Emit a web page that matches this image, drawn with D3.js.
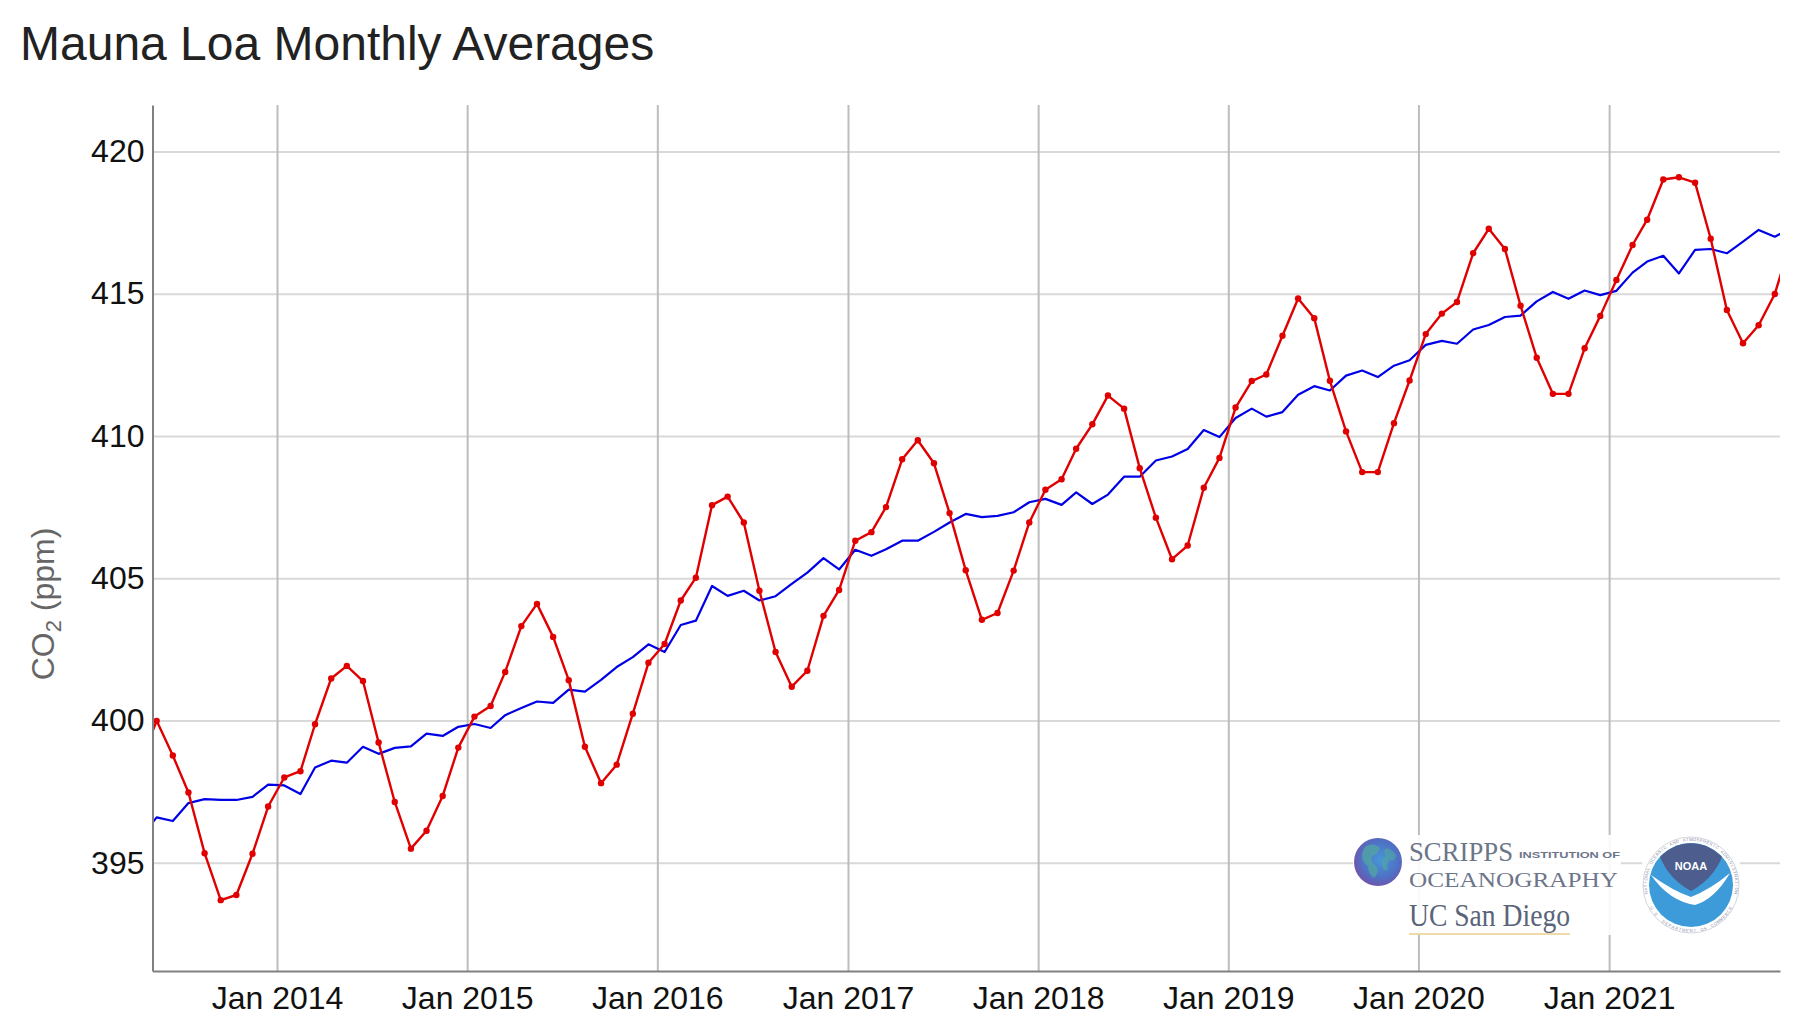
<!DOCTYPE html>
<html>
<head>
<meta charset="utf-8">
<script src="https://cdn.jsdelivr.net/npm/d3@7"></script>
<style>
  html, body { margin: 0; padding: 0; background: #ffffff; }
  svg { display: block; font-family: "Liberation Sans", Arial, Helvetica, sans-serif; }
</style>
</head>
<body>
<svg id="chart" width="1811" height="1024"></svg>
<script>
// ---------------- data ----------------
const chartTitle = "Mauna Loa Monthly Averages";
const firstMonth = "2013-04";   // first month of the series (mid-month points)
const lastMonth  = "2021-12";

// Monthly mean CO2 (ppm), red line with dots
const monthlyMean = [
  398.60, 399.99, 398.77, 397.47, 395.34, 393.69, 393.87, 395.32, 396.98,            // 2013 Apr-Dec
  398.00, 398.22, 399.87, 401.48, 401.92, 401.39, 399.23, 397.14, 395.50, 396.13, 397.35, 399.05, // 2014
  400.14, 400.51, 401.71, 403.32, 404.10, 402.94, 401.42, 399.08, 397.80, 398.45, 400.24, 402.03, // 2015
  402.69, 404.22, 405.02, 407.57, 407.87, 406.96, 404.56, 402.41, 401.19, 401.75, 403.68, 404.59, // 2016
  406.32, 406.62, 407.50, 409.18, 409.85, 409.04, 407.29, 405.28, 403.54, 403.78, 405.27, 406.96, // 2017
  408.11, 408.48, 409.55, 410.41, 411.42, 410.96, 408.87, 407.13, 405.67, 406.15, 408.18, 409.23, // 2018
  411.00, 411.93, 412.16, 413.52, 414.83, 414.14, 411.94, 410.16, 408.73, 408.73, 410.45, 411.95, // 2019
  413.58, 414.30, 414.71, 416.42, 417.28, 416.57, 414.58, 412.75, 411.48, 411.48, 413.08, 414.22, // 2020
  415.48, 416.71, 417.60, 419.01, 419.09, 418.90, 416.93, 414.43, 413.26, 413.89, 414.99, 416.80  // 2021
];

// Seasonally corrected trend (ppm), blue line
const seasonalTrend = [
  395.90, 396.60, 396.47, 397.10, 397.24, 397.21, 397.21, 397.32, 397.75,            // 2013 Apr-Dec
  397.72, 397.42, 398.35, 398.59, 398.52, 399.08, 398.83, 399.04, 399.09, 399.54, 399.46, 399.78, // 2014
  399.88, 399.74, 400.19, 400.44, 400.67, 400.62, 401.09, 401.02, 401.43, 401.88, 402.23, 402.68, // 2015
  402.41, 403.36, 403.51, 404.73, 404.38, 404.56, 404.22, 404.37, 404.80, 405.20, 405.71, 405.31, // 2016
  406.00, 405.79, 406.02, 406.32, 406.32, 406.63, 406.96, 407.26, 407.15, 407.19, 407.32, 407.67, // 2017
  407.79, 407.58, 408.02, 407.61, 407.94, 408.57, 408.57, 409.14, 409.28, 409.54, 410.21, 409.96, // 2018
  410.63, 410.96, 410.68, 410.84, 411.45, 411.75, 411.60, 412.12, 412.30, 412.07, 412.47, 412.66, // 2019
  413.20, 413.34, 413.24, 413.74, 413.90, 414.18, 414.23, 414.73, 415.06, 414.82, 415.11, 414.95, // 2020
  415.10, 415.74, 416.13, 416.33, 415.71, 416.54, 416.57, 416.42, 416.83, 417.24, 417.00, 417.30  // 2021
];

const yTickValues = [395, 400, 405, 410, 415, 420];
const xTickYears  = [2014, 2015, 2016, 2017, 2018, 2019, 2020, 2021];
const xTickLabels = ["Jan 2014", "Jan 2015", "Jan 2016", "Jan 2017", "Jan 2018", "Jan 2019", "Jan 2020", "Jan 2021"];
const yDomain = [391.2, 421.63];
const xDomainStart = "2013-05-07";
const xDomainEnd   = "2021-11-25";

// ---------------- layout ----------------
const svg = d3.select("#chart");
const plot = { left: 152.5, right: 1780, top: 105, bottom: 971 };
const W = plot.right - plot.left, H = plot.bottom - plot.top;

const parseDay = d3.timeParse("%Y-%m-%d");
const parseMonth = d3.timeParse("%Y-%m");
const months = d3.timeMonth.range(parseMonth(firstMonth), d3.timeMonth.offset(parseMonth(lastMonth), 1))
  .map(d => new Date(d.getFullYear(), d.getMonth(), 15));

const meanData = months.map((d, i) => ({ date: d, v: monthlyMean[i] }));
const trendData = months.map((d, i) => ({ date: d, v: seasonalTrend[i] }));

const x = d3.scaleTime()
  .domain([parseDay(xDomainStart), parseDay(xDomainEnd)])
  .range([plot.left, plot.right]);
const y = d3.scaleLinear().domain(yDomain).range([plot.bottom, plot.top]);

const xTickDates = xTickYears.map(yr => new Date(yr, 0, 1));

// ---------------- title ----------------
svg.append("text")
  .attr("x", 20).attr("y", 60)
  .attr("font-size", 48).attr("fill", "#222")
  .text(chartTitle);

// ---------------- grid ----------------
const hGrid = svg.append("g").attr("transform", `translate(${plot.left},0)`)
  .call(d3.axisLeft(y).tickValues(yTickValues).tickSize(-W).tickFormat(""));
hGrid.select(".domain").remove();
hGrid.selectAll("text").remove();
hGrid.selectAll("line").attr("stroke", "#d9d9d9").attr("stroke-width", 2);

const vGrid = svg.append("g").attr("transform", `translate(0,${plot.bottom})`)
  .call(d3.axisBottom(x).tickValues(xTickDates).tickSize(-H).tickFormat(""));
vGrid.select(".domain").remove();
vGrid.selectAll("text").remove();
vGrid.selectAll("line").attr("stroke", "#bdbdbd").attr("stroke-width", 2);

// ---------------- logos ----------------
const logos = svg.append("g");
logos.append("rect").attr("x", 1353).attr("y", 835).attr("width", 268).attr("height", 100)
  .attr("fill", "#fff").attr("opacity", 0.9);
logos.append("rect").attr("x", 1642).attr("y", 835).attr("width", 98).attr("height", 100)
  .attr("fill", "#fff").attr("opacity", 0.9);

const defs = svg.append("defs");
const grad = defs.append("radialGradient").attr("id", "globe").attr("cx", "55%").attr("cy", "45%").attr("r", "60%");
grad.append("stop").attr("offset", "0%").attr("stop-color", "#4696d6");
grad.append("stop").attr("offset", "65%").attr("stop-color", "#4f70c4");
grad.append("stop").attr("offset", "100%").attr("stop-color", "#7650a8");
logos.append("circle").attr("cx", 1378).attr("cy", 862).attr("r", 24).attr("fill", "url(#globe)");
logos.append("path")
  .attr("d", "M1366,846 q8,-4 14,2 q-2,6 -8,8 q-2,6 4,10 q4,6 -2,12 q-6,-4 -6,-12 q-6,-4 -6,-10 q0,-6 4,-10z")
  .attr("fill", "#52a8a0").attr("opacity", 0.7);
logos.append("path")
  .attr("d", "M1386,848 q8,2 10,8 q-2,6 -6,4 q-4,4 -2,10 q-4,2 -6,-4 q-2,-8 4,-10 q-4,-4 0,-8z")
  .attr("fill", "#52a8a0").attr("opacity", 0.6);

const serif = "'Liberation Serif', 'DejaVu Serif', 'Times New Roman', serif";
logos.append("text").attr("x", 1409).attr("y", 861).style("font-family", serif)
  .attr("font-size", 27).attr("fill", "#6d7589")
  .attr("textLength", 104).attr("lengthAdjust", "spacingAndGlyphs").text("SCRIPPS");
logos.append("text").attr("x", 1519).attr("y", 857.5).attr("font-size", 8.5).attr("font-weight", "bold")
  .attr("fill", "#6d7589").attr("textLength", 101).attr("lengthAdjust", "spacingAndGlyphs")
  .text("INSTITUTION OF");
logos.append("text").attr("x", 1409).attr("y", 887).style("font-family", serif)
  .attr("font-size", 22).attr("fill", "#6d7589")
  .attr("textLength", 209).attr("lengthAdjust", "spacingAndGlyphs").text("OCEANOGRAPHY");
logos.append("text").attr("x", 1409).attr("y", 926).style("font-family", serif)
  .attr("font-size", 31).attr("fill", "#5a6379")
  .attr("textLength", 161).attr("lengthAdjust", "spacingAndGlyphs").text("UC San Diego");
logos.append("line").attr("x1", 1409).attr("x2", 1570).attr("y1", 934).attr("y2", 934)
  .attr("stroke", "#e8cf8a").attr("stroke-width", 1.5);

// NOAA emblem
const cx = 1691, cy = 885;
logos.append("circle").attr("cx", cx).attr("cy", cy).attr("r", 48)
  .attr("fill", "none").attr("stroke", "#d4d6e0").attr("stroke-width", 1);
// ring lettering, one glyph at a time around the seal
function ringText(str, a0, a1, r, outward) {
  const n = str.length;
  str.split("").forEach((ch, i) => {
    if (ch === " ") return;
    const a = (a0 + (a1 - a0) * (i + 0.5) / n) * Math.PI / 180;
    const px = cx + r * Math.cos(a), py = cy + r * Math.sin(a);
    const rot = a * 180 / Math.PI + (outward ? 90 : -90);
    logos.append("text").attr("transform", `translate(${px.toFixed(2)},${py.toFixed(2)}) rotate(${rot.toFixed(1)})`)
      .attr("text-anchor", "middle").attr("font-size", 4.2).attr("fill", "#8b90a8").text(ch);
  });
}
ringText("NATIONAL OCEANIC AND ATMOSPHERIC ADMINISTRATION", 168, 372, 44.2, true);
ringText("U.S. DEPARTMENT OF COMMERCE", 152, 28, 47.2, false);

logos.append("circle").attr("cx", cx).attr("cy", cy).attr("r", 42).attr("fill", "#3c9bd8");
logos.append("path")
  .attr("d", `M${cx-31},${cy-28} A42,42 0 0 1 ${cx+31},${cy-28} Q${cx+22},${cy-6} ${cx},${cy+6} Q${cx-22},${cy-6} ${cx-31},${cy-28}Z`)
  .attr("fill", "#4c5d8e");
logos.append("path")
  .attr("d", `M${cx-40},${cy-10} Q${cx-18},${cy+6} ${cx},${cy+12} Q${cx+20},${cy+4} ${cx+39},${cy-12} Q${cx+24},${cy+14} ${cx+4},${cy+20} Q${cx-22},${cy+16} ${cx-40},${cy-10}Z`)
  .attr("fill", "#ffffff");
logos.append("text").attr("x", cx).attr("y", cy - 15).attr("text-anchor", "middle")
  .attr("font-size", 11).attr("font-weight", "bold").attr("fill", "#ffffff").text("NOAA");

// ---------------- series ----------------
defs.append("clipPath").attr("id", "plotClip").append("rect")
  .attr("x", plot.left).attr("y", plot.top).attr("width", W).attr("height", H);

const series = svg.append("g").attr("clip-path", "url(#plotClip)");
const line = d3.line().x(d => x(d.date)).y(d => y(d.v));

series.append("path").datum(trendData)
  .attr("d", line).attr("fill", "none").attr("stroke", "#0000e6").attr("stroke-width", 2.2)
  .attr("stroke-linejoin", "round");

series.append("path").datum(meanData)
  .attr("d", line).attr("fill", "none").attr("stroke", "#e00000").attr("stroke-width", 2.4)
  .attr("stroke-linejoin", "round");

series.selectAll("circle.pt").data(meanData).join("circle")
  .attr("class", "pt")
  .attr("cx", d => x(d.date)).attr("cy", d => y(d.v)).attr("r", 3.2)
  .attr("fill", "#e00000");

// ---------------- axes ----------------
const yAxis = svg.append("g").attr("transform", `translate(${plot.left},0)`)
  .call(d3.axisLeft(y).tickValues(yTickValues).tickSize(0).tickSizeOuter(0).tickPadding(8).tickFormat(d3.format("d")));
yAxis.select(".domain").attr("stroke", "#808080").attr("stroke-width", 2);
yAxis.selectAll("text").attr("font-size", 32).attr("fill", "#111")
  .attr("font-family", "'Liberation Sans', Arial, sans-serif");

const xAxis = svg.append("g").attr("transform", `translate(0,${plot.bottom})`)
  .call(d3.axisBottom(x).tickValues(xTickDates).tickSize(0).tickSizeOuter(0).tickPadding(15)
    .tickFormat((d, i) => xTickLabels[i]));
xAxis.select(".domain").attr("stroke", "#808080").attr("stroke-width", 2);
xAxis.selectAll("text").attr("font-size", 32).attr("fill", "#111")
  .attr("font-family", "'Liberation Sans', Arial, sans-serif");

// y-axis title with subscript
const yTitle = svg.append("text")
  .attr("transform", "translate(54,604) rotate(-90)")
  .attr("text-anchor", "middle").attr("font-size", 32).attr("fill", "#666");
yTitle.append("tspan").text("CO");
yTitle.append("tspan").attr("font-size", 22).attr("dy", 7).text("2");
yTitle.append("tspan").attr("dy", -7).text(" (ppm)");
</script>
</body>
</html>
